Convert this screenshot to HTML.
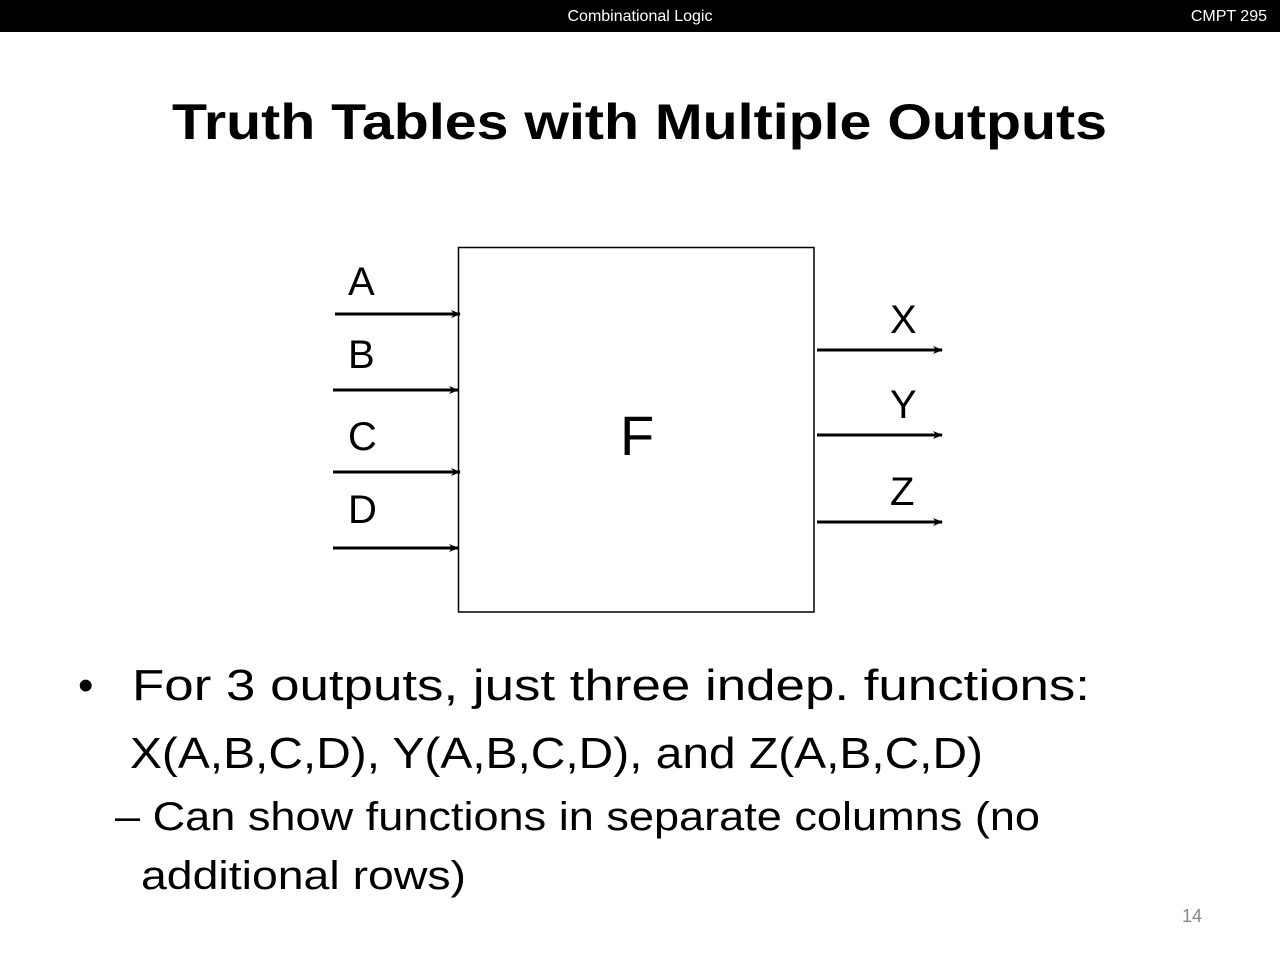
<!DOCTYPE html>
<html><head><meta charset="utf-8"><style>
html,body{margin:0;padding:0;background:#fff;}
svg{display:block;}
text{font-family:"Liberation Sans",sans-serif;}
</style></head><body>
<svg width="1280" height="960" viewBox="0 0 1280 960" xmlns="http://www.w3.org/2000/svg">
<defs>
<marker id="ah" markerWidth="10" markerHeight="8" refX="9" refY="4" orient="auto" markerUnits="userSpaceOnUse">
<path d="M0,0 L10,4 L0,8 L3,4 Z" fill="#000"/>
</marker>
</defs>
<rect x="0" y="0" width="1280" height="32" fill="#000"/>
<text x="640" y="21" font-size="16" fill="#fff" text-anchor="middle" textLength="145" lengthAdjust="spacingAndGlyphs">Combinational Logic</text>
<text x="1267" y="21" font-size="16" fill="#fff" text-anchor="end">CMPT 295</text>
<text x="172" y="139" font-size="50" font-weight="bold" textLength="935" lengthAdjust="spacingAndGlyphs">Truth Tables with Multiple Outputs</text>
<rect x="458.5" y="247.5" width="355.5" height="364.5" fill="none" stroke="#000" stroke-width="1.5"/>
<g stroke="#000" stroke-width="3" marker-end="url(#ah)">
<line x1="335" y1="314" x2="460" y2="314"/>
<line x1="333" y1="390" x2="458" y2="390"/>
<line x1="333" y1="472" x2="460" y2="472"/>
<line x1="333" y1="548" x2="458" y2="548"/>
<line x1="817" y1="350" x2="942" y2="350"/>
<line x1="817" y1="435" x2="942" y2="435"/>
<line x1="817" y1="522" x2="942" y2="522"/>
</g>
<g font-size="40">
<text x="348" y="295">A</text>
<text x="348" y="368">B</text>
<text x="348" y="450">C</text>
<text x="348" y="523">D</text>
<text x="890" y="333">X</text>
<text x="890" y="418">Y</text>
<text x="890" y="505">Z</text>
</g>
<text x="620" y="455" font-size="56">F</text>
<text x="78" y="700" font-size="44">•</text>
<text x="132" y="700" font-size="44" textLength="958" lengthAdjust="spacingAndGlyphs">For 3 outputs, just three indep. functions:</text>
<text x="130" y="768" font-size="44" textLength="853" lengthAdjust="spacingAndGlyphs">X(A,B,C,D), Y(A,B,C,D), and Z(A,B,C,D)</text>
<text x="115" y="830" font-size="40" textLength="925" lengthAdjust="spacingAndGlyphs">– Can show functions in separate columns (no</text>
<text x="141" y="889" font-size="40" textLength="325" lengthAdjust="spacingAndGlyphs">additional rows)</text>
<text x="1182" y="922" font-size="18" fill="#888">14</text>
</svg>
</body></html>
